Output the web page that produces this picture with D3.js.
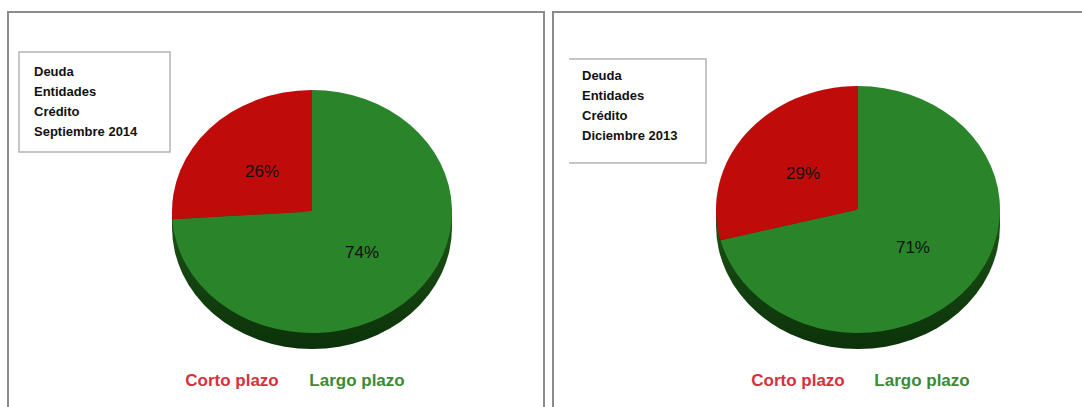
<!DOCTYPE html>
<html>
<head>
<meta charset="utf-8">
<script src="https://cdn.jsdelivr.net/npm/d3@7"></script>
<style>
  html, body { margin: 0; padding: 0; background: #ffffff; }
  svg { display: block; }
</style>
</head>
<body>
<svg id="chart" width="1082" height="407"></svg>
<script>
// ---- data ----
const categories = ["Corto plazo", "Largo plazo"];
const valuesSep2014 = [26, 74];
const valuesDic2013 = [29, 71];
const titleSep2014 = ["Deuda", "Entidades", "Crédito", "Septiembre 2014"];
const titleDic2013 = ["Deuda", "Entidades", "Crédito", "Diciembre 2013"];

// ---- style / layout ----
const colors = { "Corto plazo": "#c00b0b", "Largo plazo": "#2a842a" };
const legendColors = { "Corto plazo": "#d8303a", "Largo plazo": "#3d8a36" };
const sideTop = "#1c5416", sideBottom = "#0c320a";

const panels = [
  { values: valuesSep2014, title: titleSep2014,
    frame: { x: 8, y: 12, w: 536, h: 420 },
    cx: 312, cy: 211.5, rx: 140, ry: 121.5, depth: 16,
    box: { x: 19, y: 52, w: 151, h: 100, left: true }, textX: 34, textY: 76,
    legend: [232, 357] },
  { values: valuesDic2013, title: titleDic2013,
    frame: { x: 553, y: 12, w: 560, h: 420 },
    cx: 858, cy: 209.5, rx: 142, ry: 123.5, depth: 16,
    box: { x: 569, y: 59, w: 137, h: 104, left: false }, textX: 582, textY: 80,
    legend: [798, 922] }
];

const svg = d3.select("#chart");
const defs = svg.append("defs");
const grad = defs.append("linearGradient").attr("id", "sideGrad")
  .attr("x1", 0).attr("y1", 0).attr("x2", 0).attr("y2", 1);
grad.append("stop").attr("offset", "0%").attr("stop-color", sideTop);
grad.append("stop").attr("offset", "100%").attr("stop-color", sideBottom);

panels.forEach((p) => {
  const g = svg.append("g");

  // frame
  g.append("rect")
    .attr("x", p.frame.x).attr("y", p.frame.y)
    .attr("width", p.frame.w).attr("height", p.frame.h)
    .attr("fill", "#ffffff").attr("stroke", "#8c8c8c").attr("stroke-width", 2);

  // title box
  const b = p.box;
  const boxPath = d3.path();
  if (b.left) {
    boxPath.rect(b.x, b.y, b.w, b.h);
  } else {
    boxPath.moveTo(b.x, b.y); boxPath.lineTo(b.x + b.w, b.y);
    boxPath.lineTo(b.x + b.w, b.y + b.h); boxPath.lineTo(b.x, b.y + b.h);
  }
  g.append("path").attr("d", boxPath.toString())
    .attr("fill", "#ffffff").attr("stroke", "#b4b4b4").attr("stroke-width", 1.5);

  g.append("g").selectAll("text").data(p.title).join("text")
    .attr("x", p.textX)
    .attr("y", (d, k) => p.textY + k * 20)
    .attr("font-family", "Liberation Sans, Arial, sans-serif")
    .attr("font-size", 13)
    .attr("font-weight", "bold")
    .attr("fill", "#111111")
    .text(d => d);

  // pie data (Largo first so that Corto sits in the upper-left)
  const data = categories.map((c, k) => ({ cat: c, value: p.values[k] }));
  const pie = d3.pie().sort(null).value(d => d.value)
    .startAngle(0).endAngle(2 * Math.PI);
  const arcs = pie([data[1], data[0]]);
  const arc = d3.arc().innerRadius(0).outerRadius(p.rx);
  const labelArc = d3.arc().innerRadius(p.rx * 0.49).outerRadius(p.rx * 0.49);
  const sy = p.ry / p.rx;

  // side (extrusion)
  g.append("path")
    .attr("d", `M${p.cx - p.rx},${p.cy} L${p.cx - p.rx},${p.cy + p.depth}
      A${p.rx},${p.ry} 0 0 0 ${p.cx + p.rx},${p.cy + p.depth}
      L${p.cx + p.rx},${p.cy} Z`)
    .attr("fill", "url(#sideGrad)");

  // top face
  const face = g.append("g")
    .attr("transform", `translate(${p.cx},${p.cy}) scale(1,${sy})`);
  face.selectAll("path").data(arcs).join("path")
    .attr("d", arc)
    .attr("fill", d => colors[d.data.cat]);

  // percentage labels
  g.selectAll("text.pct").data(arcs).join("text")
    .attr("class", "pct")
    .attr("x", d => p.cx + labelArc.centroid(d)[0])
    .attr("y", d => p.cy + labelArc.centroid(d)[1] * sy)
    .attr("dy", "0.36em")
    .attr("text-anchor", "middle")
    .attr("font-family", "Liberation Sans, Arial, sans-serif")
    .attr("font-size", 17)
    .attr("fill", "#111111")
    .text(d => d.data.value + "%");

  // legend
  const lx = d3.scalePoint().domain(categories).range(p.legend);
  g.selectAll("text.leg").data(categories).join("text")
    .attr("class", "leg")
    .attr("x", d => lx(d))
    .attr("y", 380)
    .attr("dy", "0.36em")
    .attr("text-anchor", "middle")
    .attr("font-family", "Liberation Sans, Arial, sans-serif")
    .attr("font-size", 17)
    .attr("font-weight", "bold")
    .attr("fill", d => legendColors[d])
    .text(d => d);
});
</script>
</body>
</html>
